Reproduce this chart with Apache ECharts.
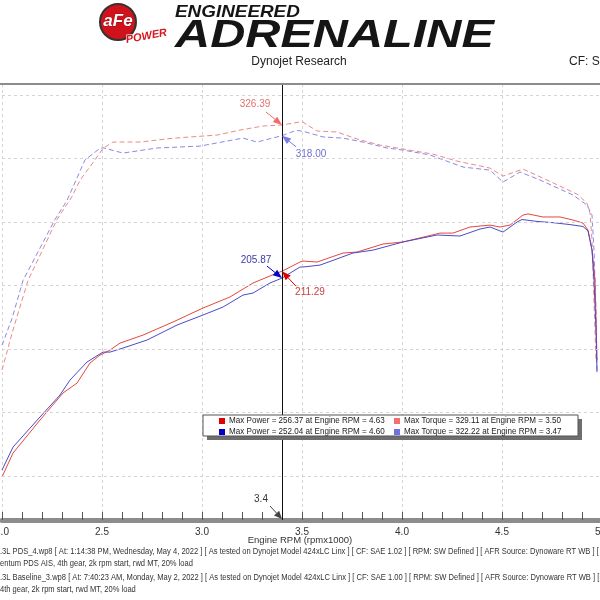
<!DOCTYPE html>
<html><head><meta charset="utf-8">
<script src="https://cdn.jsdelivr.net/npm/echarts@6/dist/echarts.min.js"></script>
<style>html,body{margin:0;padding:0;background:#fff}#c{width:600px;height:600px}</style>
</head><body><div id="c"></div>
<script>
// ---- data (RPM x1000, value) ----
const torqueRedRpm = [2.00,2.055,2.13,2.275,2.35,2.39,2.465,2.505,2.555,2.69,2.855,3.075,3.19,3.305,3.40,3.50,3.575,3.675,3.775,3.89,4.005,4.155,4.275,4.44,4.505,4.605,4.705,4.875,4.925,4.94,4.95,4.96,4.97];
const torqueRedVal = [133.5,165,204,252,270,283,299,308,313,313,316,318.5,322.4,325.6,326.4,329.1,321.7,320.9,315.4,310.6,307.5,303.5,298,292.5,286.2,291.7,284.6,272,265,257,236,188,141];
const torqueBlueRpm = [2.00,2.05,2.105,2.265,2.325,2.415,2.49,2.505,2.605,2.775,2.99,3.205,3.275,3.40,3.47,3.505,3.605,3.705,3.805,3.925,4.005,4.14,4.305,4.44,4.505,4.59,4.69,4.855,4.925,4.95,4.96,4.97,4.975];
const torqueBlueVal = [153,174,204,252,267,299,308,308.5,304.3,308.3,309.8,316.1,313,318,322.2,321.5,317,316.1,313,308.3,306.7,302.8,293.3,290.9,281.5,289.4,283.1,271.3,263.4,255.5,228,181,133];
const powerRedRpm = [2.00,2.055,2.19,2.305,2.375,2.44,2.49,2.54,2.59,2.705,2.855,3.005,3.14,3.255,3.375,3.40,3.49,3.505,3.575,3.705,3.775,3.905,4.005,4.19,4.255,4.34,4.44,4.49,4.54,4.605,4.63,4.705,4.79,4.855,4.905,4.93,4.95,4.965,4.97,4.975];
const powerRedVal = [49.2,68.1,94.1,115.4,123.2,139,145.3,149.2,154.7,161,171.3,182.3,191,202,209.8,211.3,218.5,219.3,218.5,225.6,226.4,232.7,234.3,241.3,241.3,246.1,247.6,246.1,247.6,255.5,256.4,254,254,251.6,249.2,243.7,228,204.3,172.8,141.3];
const powerBlueRpm = [2.00,2.055,2.19,2.29,2.34,2.425,2.505,2.54,2.605,2.725,2.875,3.005,3.105,3.205,3.255,3.34,3.40,3.49,3.505,3.59,3.755,3.855,4.005,4.175,4.29,4.39,4.44,4.505,4.575,4.60,4.675,4.755,4.84,4.905,4.93,4.95,4.96,4.97,4.975];
const powerBlueVal = [54.7,72.8,96.5,113.8,125.6,139.8,147.6,147.6,150.8,157.1,168.9,176.8,183.1,192.5,194.1,202,205.9,214.6,214.6,216.1,225.6,227.9,234.3,239.8,239,244.5,246.1,242.1,250,252,250.5,249.5,248,246.5,243,228,204,165,132];

const gridValues = [50,100,150,200,250,300,350];
const cursorRpm = 3.4;
const cursorLabel = '3.4';
const cursorValues = [326.39, 318.00, 205.87, 211.29];
const cursorTexts = ['326.39','318.00','205.87','211.29'];
const legendTexts = [
  'Max Power = 256.37 at Engine RPM = 4.63',
  'Max Torque = 329.11 at Engine RPM = 3.50',
  'Max Power = 252.04 at Engine RPM = 4.60',
  'Max Torque = 322.22 at Engine RPM = 3.47'
];
const footerLines = [
  '.3L PDS_4.wp8 [ At: 1:14:38 PM, Wednesday, May 4, 2022 ] [ As tested on Dynojet Model 424xLC Linx ] [ CF: SAE 1.02 ] [ RPM: SW Defined ] [ AFR Source: Dynoware RT WB ] [ I',
  'entum PDS AIS, 4th gear, 2k rpm start, rwd MT, 20% load',
  '.3L Baseline_3.wp8 [ At: 7:40:23 AM, Monday, May 2, 2022 ] [ As tested on Dynojet Model 424xLC Linx ] [ CF: SAE 1.00 ] [ RPM: SW Defined ] [ AFR Source: Dynoware RT WB ] [ I',
  '4th gear, 2k rpm start, rwd MT, 20% load'
];

const zip = (a, b) => a.map((v, i) => [v, b[i]]);
const FONT = 'Liberation Sans';

const chart = echarts.init(document.getElementById('c'), null, {renderer: 'canvas'});
const Y_MIN = 15.4, Y_MAX = 358.7;

const option = {
  animation: false,
  backgroundColor: '#fff',
  grid: {left: 2, top: 84, width: 600, height: 436, containLabel: false, outerBoundsMode: 'none'},
  xAxis: {
    type: 'value', min: 2, max: 5, interval: 0.5,
    axisLine: {show: true, lineStyle: {color: '#8c8c8c', width: 5}},
    axisTick: {show: true, inside: true, length: 8, lineStyle: {color: '#555', width: 1}},
    minorTick: {show: true, splitNumber: 5, length: 8, lineStyle: {color: '#555', width: 1}},
    splitLine: {show: true, lineStyle: {color: '#d4d4d4', type: [3, 3], width: 1}},
    axisLabel: {show: true, margin: 7, color: '#333', fontFamily: FONT, fontSize: 10,
      formatter: v => v.toFixed(1), showMaxLabel: true, showMinLabel: true}
  },
  yAxis: {
    type: 'value', min: Y_MIN, max: Y_MAX,
    axisLine: {show: false}, axisTick: {show: false}, axisLabel: {show: false}, splitLine: {show: false}
  },
  series: [
    {type: 'line', data: [], silent: true,
      markLine: {silent: true, symbol: 'none', label: {show: false},
        lineStyle: {color: '#d4d4d4', type: [3, 3], width: 1},
        data: gridValues.map(v => ({yAxis: v}))}},
    {name: 'Torque red', type: 'line', data: zip(torqueRedRpm, torqueRedVal), showSymbol: false, smooth: false,
      lineStyle: {color: '#ea8a8a', width: 1, type: [5, 3]}},
    {name: 'Torque blue', type: 'line', data: zip(torqueBlueRpm, torqueBlueVal), showSymbol: false, smooth: false,
      lineStyle: {color: '#8a8ae2', width: 1, type: [5, 3]}},
    {name: 'Power red', type: 'line', data: zip(powerRedRpm, powerRedVal), showSymbol: false, smooth: false,
      lineStyle: {color: '#e4483c', width: 1}},
    {name: 'Power blue', type: 'line', data: zip(powerBlueRpm, powerBlueVal), showSymbol: false, smooth: false,
      lineStyle: {color: '#4b4bc8', width: 1}},
    {type: 'line', data: [], silent: true,
      markLine: {silent: true, symbol: 'none', label: {show: false},
        lineStyle: {color: '#111', type: 'solid', width: 1},
        data: [{xAxis: cursorRpm}]}}
  ]
};
chart.setOption(option);

// ---- graphics (header, legend, annotations, footer) ----
function arrow(x1, y1, x2, y2, color, head) {
  const dx = x2 - x1, dy = y2 - y1, L = Math.hypot(dx, dy);
  const ux = dx / L, uy = dy / L, h = head || 9, w = 3.5;
  const bx = x2 - ux * h, by = y2 - uy * h;
  return [
    {type: 'line', shape: {x1, y1, x2: bx, y2: by}, style: {stroke: color, lineWidth: 1}, z: 10},
    {type: 'polygon', shape: {points: [[x2, y2], [bx - uy * w, by + ux * w], [bx + uy * w, by - ux * w]]},
      style: {fill: color}, z: 10}
  ];
}
function txt(x, y, text, size, color, align, extra) {
  return Object.assign({type: 'text', x, y, z: 11,
    style: {text, fill: color, font: size + 'px "' + FONT + '"', textAlign: align || 'left', textVerticalAlign: 'middle'}}, extra || {});
}

const g = [];
// header logo
g.push({type: 'circle', shape: {cx: 118, cy: 22, r: 18}, style: {fill: '#d0121c', stroke: '#333', lineWidth: 2}});
g.push({type: 'text', x: 118, y: 21, style: {text: 'aFe', fill: '#fff', font: 'italic bold 17px "' + FONT + '"', textAlign: 'center', textVerticalAlign: 'middle', stroke: '#600', lineWidth: 0.5}});
g.push({type: 'text', x: 126, y: 40, rotation: 0.18, style: {text: 'POWER', fill: '#d8141c', font: 'italic bold 11px "' + FONT + '"', textAlign: 'left', textVerticalAlign: 'middle', stroke: '#fff', lineWidth: 1}});
g.push({type: 'text', x: 175, y: 13, scaleX: 1.18, style: {text: 'ENGINEERED', fill: '#151515', font: 'italic bold 16px "' + FONT + '"', textAlign: 'left', textVerticalAlign: 'middle', shadowColor: 'rgba(0,0,0,0.35)', shadowOffsetX: 1, shadowOffsetY: 1, shadowBlur: 1}});
g.push({type: 'text', x: 175, y: 37, scaleX: 1.28, style: {text: 'ADRENALINE', fill: '#151515', font: 'italic 900 38px "' + FONT + '"', textAlign: 'left', textVerticalAlign: 'middle', shadowColor: 'rgba(0,0,0,0.45)', shadowOffsetX: 2, shadowOffsetY: 2, shadowBlur: 2}});
g.push(txt(299, 62, 'Dynojet Research', 12, '#222', 'center'));
g.push(txt(569, 62, 'CF: SAE', 12, '#222', 'left'));
// top border
g.push({type: 'line', shape: {x1: 0, y1: 84, x2: 600, y2: 84}, style: {stroke: '#8c8c8c', lineWidth: 2}, z: 5});
// axis title
g.push(txt(300, 540, 'Engine RPM (rpmx1000)', 9.5, '#333', 'center'));
// footer
const footY = [552, 564, 578, 590];
footerLines.forEach((t, i) => g.push(txt(0, footY[i], t, 8.5, '#333', 'left', {scaleX: 0.89})));
// legend box
g.push({type: 'rect', shape: {x: 207, y: 419, width: 375, height: 21}, style: {fill: '#6e6e6e'}, z: 8});
g.push({type: 'rect', shape: {x: 203, y: 415, width: 375, height: 21}, style: {fill: '#fff', stroke: '#555', lineWidth: 1}, z: 9});
const legColors = ['#e00000', '#f07070', '#0000c8', '#7070e0'];
const legPos = [[222, 421], [397, 421], [222, 432], [397, 432]];
legendTexts.forEach((t, i) => {
  const [x, y] = legPos[i];
  g.push({type: 'rect', shape: {x: x - 3, y: y - 3, width: 6, height: 6}, style: {fill: legColors[i]}, z: 10});
  g.push(txt(x + 7, y, t, 8.5, '#222', 'left', {z: 11, scaleX: 0.95}));
});

// annotations anchored at cursor values via the chart's scales
const annoColors = [['#f06a6a', '#e07070'], ['#7a7ae8', '#7070d0'], ['#0000d0', '#3a3aa8'], ['#e00000', '#c84040']];
const annoArrow = [[-16, -13], [14, 11], [-15, -12], [14, 15]];
const annoText = [[-27, -21], [29, 19], [-26, -18], [28, 21]];
cursorValues.forEach((v, i) => {
  const [px, py] = chart.convertToPixel({gridIndex: 0}, [cursorRpm, v]);
  const [ax, ay] = annoArrow[i];
  arrow(px + ax, py + ay, px, py, annoColors[i][0], 9).forEach(e => g.push(e));
  g.push(txt(px + annoText[i][0], py + annoText[i][1], cursorTexts[i], 10, annoColors[i][1], 'center'));
});
{
  const [px, py] = chart.convertToPixel({gridIndex: 0}, [cursorRpm, Y_MIN]);
  arrow(px - 12, py - 14, px, py - 1, '#444', 8).forEach(e => g.push(e));
  g.push(txt(px - 21, py - 21, cursorLabel, 10, '#333', 'center'));
}
chart.setOption({graphic: {elements: g}});
</script>
</body></html>
